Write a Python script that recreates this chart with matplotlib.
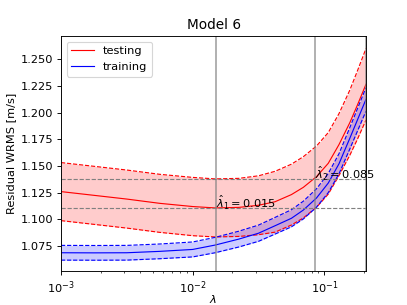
import numpy as np
import matplotlib
matplotlib.use("Agg")
import matplotlib.pyplot as plt

# lambda grid
lam = [0.001, 0.00178, 0.00316, 0.00562, 0.01, 0.0148, 0.0224, 0.0316, 0.0422,
       0.0562, 0.0692, 0.0871, 0.107, 0.129, 0.156, 0.178, 0.207]

test_mean = [1.1260, 1.1225, 1.1190, 1.1150, 1.1120, 1.1107, 1.1112, 1.1132, 1.1165,
             1.1232, 1.1300, 1.1400, 1.1525, 1.1700, 1.1906, 1.2070, 1.2266]
test_std = [0.0272, 0.0272, 0.0272, 0.0272, 0.0273, 0.0272, 0.0272, 0.0276, 0.0285,
            0.0285, 0.0287, 0.0287, 0.0288, 0.0290, 0.0305, 0.0320, 0.0335]

train_mean = [1.0687, 1.0686, 1.0687, 1.0700, 1.0718, 1.0759, 1.0815, 1.0870, 1.0940,
              1.1010, 1.1087, 1.1200, 1.1340, 1.1520, 1.1760, 1.1930, 1.2125]
train_std = [0.0069, 0.0069, 0.0069, 0.0069, 0.0070, 0.0072, 0.0074, 0.0076, 0.0078,
             0.0080, 0.0083, 0.0086, 0.0090, 0.0094, 0.0100, 0.0105, 0.0110]

lambda1 = 0.015
lambda2 = 0.085
level1 = 1.1105
level2 = 1.1375

lam = np.array(lam)
tm = np.array(test_mean); ts = np.array(test_std)
rm = np.array(train_mean); rs = np.array(train_std)

DPI = 82
fig = plt.figure(figsize=(407/DPI, 305/DPI), dpi=DPI)
ax = fig.add_axes([61/407, 1-271/305, (366-61)/407, (271-36)/305])

ax.fill_between(lam, tm - ts, tm + ts, color='red', alpha=0.2, lw=0)
ax.plot(lam, tm, color='red', lw=1.0, label='testing')
ax.plot(lam, tm + ts, color='red', lw=1.0, ls='--')
ax.plot(lam, tm - ts, color='red', lw=1.0, ls='--')

ax.fill_between(lam, rm - rs, rm + rs, color='blue', alpha=0.2, lw=0)
ax.plot(lam, rm, color='blue', lw=1.0, label='training')
ax.plot(lam, rm + rs, color='blue', lw=1.0, ls='--')
ax.plot(lam, rm - rs, color='blue', lw=1.0, ls='--')

for xv in [lam[0], lambda1, lambda2, lam[-1]]:
    ax.axvline(xv, color='gray', lw=1.5, alpha=0.7)
for yv in [level1, level2]:
    ax.axhline(yv, color='gray', lw=1.0, ls='--')

ax.text(lambda1, level1, r'$\hat{\lambda}_1 = 0.015$', fontsize=10)
ax.text(lambda2, level2, r'$\hat{\lambda}_2 = 0.085$', fontsize=10)

ax.set_xscale('log')
ax.set_xlim(1e-3, 0.207)
ax.set_ylim(1.0516, 1.2718)
ax.set_yticks([1.075, 1.100, 1.125, 1.150, 1.175, 1.200, 1.225, 1.250])
ax.set_xlabel(r'$\lambda$', labelpad=-2)
ax.set_ylabel('Residual WRMS [m/s]')
ax.set_title('Model 6')
ax.legend(loc='upper left')

fig.savefig('out.png', dpi=DPI)
